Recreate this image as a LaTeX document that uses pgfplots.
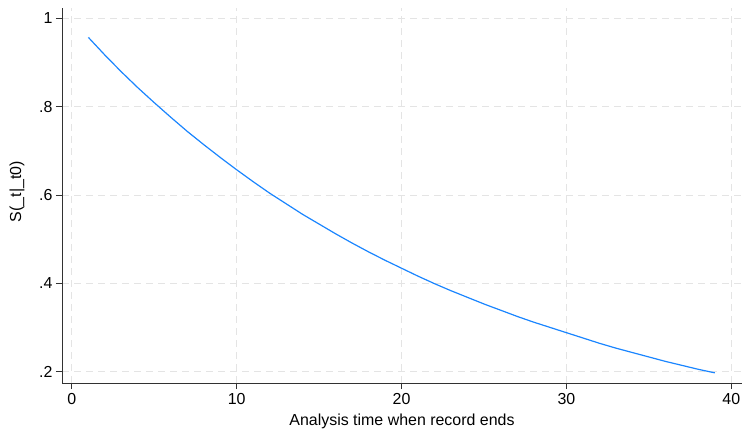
\documentclass[border=0pt]{standalone}
\usepackage{fontspec}
\setmainfont{Liberation Sans}
\usepackage{pgfplots}
\pgfplotsset{compat=1.18}
\definecolor{stblue}{RGB}{26,133,255}
\definecolor{gridgray}{RGB}{228,228,228}
\definecolor{axgray}{RGB}{50,50,50}
\begin{document}
\begin{tikzpicture}
\begin{axis}[
  at={(0,0)}, anchor=south west,
  scale only axis, width=680bp, height=375bp,
  xmin=-0.6, xmax=40.65, ymin=0.174, ymax=1.0236,
  axis x line*=bottom, axis y line*=left,
  xtick={0,10,20,30,40}, xticklabels={0,10,20,30,40},
  ytick={0.2,0.4,0.6,0.8,1}, yticklabels={.2,.4,.6,.8,1},
  tick align=outside, major tick length=6bp,
  tick style={axgray, line width=0.8bp},
  axis line style={axgray, line width=1bp},
  grid=major, major grid style={gridgray, dash pattern=on 7bp off 5bp, line width=0.9bp},
  font=\fontsize{16}{19}\selectfont,
  xticklabel style={yshift=-1bp},
  xlabel={Analysis time when record ends},
  ylabel={S(\_t\textbar\_t0)},
  xlabel style={at={(axis description cs:0.5,-0.1013)}, anchor=center},
  ylabel style={at={(axis description cs:-0.066,0.51)}, anchor=center, rotate=0},
]
\addplot[stblue, line width=1.2bp, no marks] table {
x y
1 0.957
2 0.917
3 0.879
4 0.843
5 0.809
6 0.776
7 0.744
8 0.714
9 0.685
10 0.657
11 0.630
12 0.604
13 0.580
14 0.556
15 0.534
16 0.512
17 0.491
18 0.471
19 0.452
20 0.434
21 0.416
22 0.399
23 0.383
24 0.368
25 0.353
26 0.339
27 0.325
28 0.312
29 0.300
30 0.288
31 0.276
32 0.264
33 0.253
34 0.243
35 0.233
36 0.223
37 0.214
38 0.205
39 0.197
};
\end{axis}
\pgfresetboundingbox
\path (-62bp,-46bp) rectangle (682bp,383bp);
\end{tikzpicture}
\end{document}
